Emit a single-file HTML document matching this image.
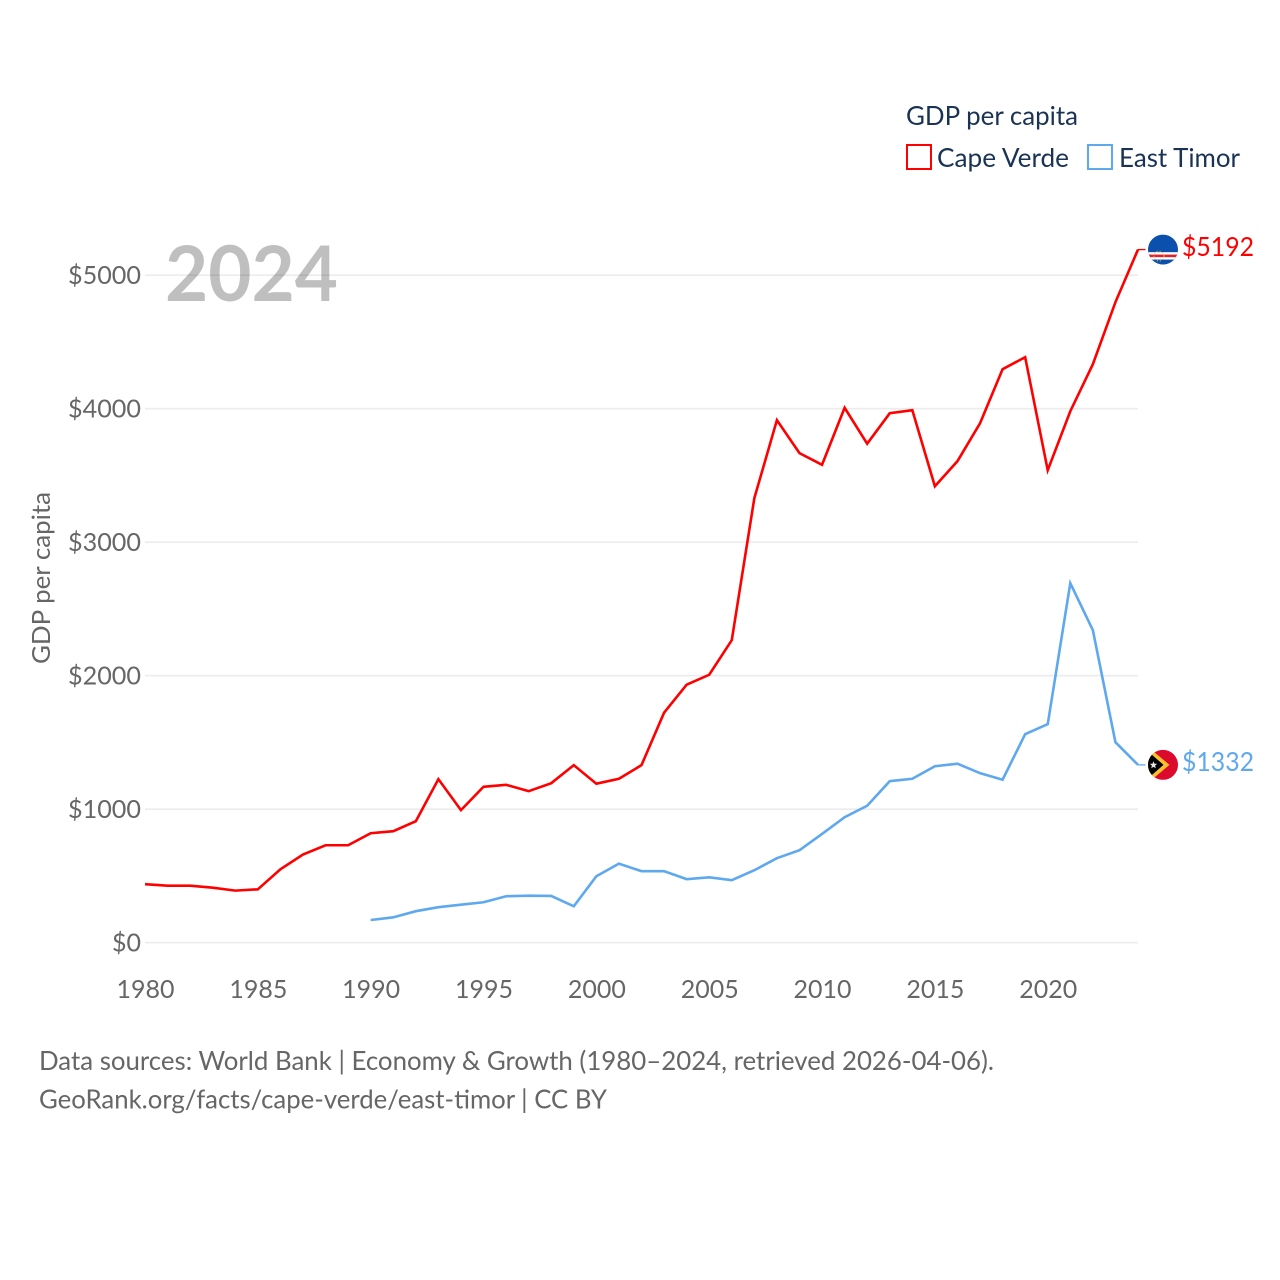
<!DOCTYPE html>
<html lang="en">
<head>
<meta charset="utf-8">
<title>GDP per capita: Cape Verde and East Timor</title>
<style>
html,body{margin:0;padding:0;background:#fff;}
svg{display:block;}
text{font-family:"Lato","Carlito","Liberation Sans",sans-serif;}
</style>
</head>
<body>
<svg id="chart" xmlns="http://www.w3.org/2000/svg" width="1280" height="1280" viewBox="0 0 1280 1280">
  <rect width="1280" height="1280" fill="#fff"/>
  <g id="grid"></g>
  <g id="yticks"></g>
  <g id="xticks"></g>
  <text transform="translate(50,664) rotate(-90)" font-size="25.5" fill="#666" textLength="172" lengthAdjust="spacingAndGlyphs">GDP per capita</text>
  <text x="165" y="301" font-size="77" font-weight="700" fill="#000" fill-opacity="0.25" textLength="173" lengthAdjust="spacingAndGlyphs">2024</text>
  <g id="series"></g>
  <g id="flag-cv">
    <clipPath id="clip-cv"><circle r="15"/></clipPath>
    <g clip-path="url(#clip-cv)">
      <rect x="-15" y="-15" width="30" height="30" fill="#0b50ad"/>
      <rect x="-15" y="2.6" width="30" height="7.4" fill="#fff"/>
      <rect x="-15" y="5" width="30" height="2.6" fill="#e0202c"/>
      <circle cx="-4" cy="6.5" r="5" fill="none" stroke="#f4c430" stroke-width="1" stroke-dasharray="1 2"/>
    </g>
  </g>
  <g id="flag-tl">
    <clipPath id="clip-tl"><circle r="15"/></clipPath>
    <g clip-path="url(#clip-tl)">
      <rect x="-15" y="-15" width="30" height="30" fill="#dc0a2c"/>
      <polygon points="-15,-18 6.5,0 -15,18" fill="#fcc030"/>
      <polygon points="-15,-13.5 0.5,0 -15,13.5" fill="#000"/>
      <polygon points="-9.5,-3.6 -8.5,-1.1 -5.8,-1.1 -7.9,0.7 -7.2,3.4 -9.5,2 -11.8,3.4 -11.1,0.7 -13.2,-1.1 -10.5,-1.1" fill="#e8e8e8"/>
    </g>
  </g>
  <g id="end-labels"></g>
  <g>
    <text x="906" y="125" font-size="26" fill="#1a3355" textLength="172" lengthAdjust="spacingAndGlyphs">GDP per capita</text>
    <rect x="907" y="145" width="24" height="24" fill="#fff" stroke="#ff0000" stroke-width="2"/>
    <text x="937" y="167" font-size="26" fill="#1a3355" textLength="132" lengthAdjust="spacingAndGlyphs">Cape Verde</text>
    <rect x="1088" y="145" width="24" height="24" fill="#fff" stroke="#5ea8ee" stroke-width="2"/>
    <text x="1119" y="167" font-size="26" fill="#1a3355" textLength="121" lengthAdjust="spacingAndGlyphs">East Timor</text>
  </g>
  <text x="39" y="1070" font-size="26" fill="#666" textLength="955" lengthAdjust="spacingAndGlyphs">Data sources: World Bank | Economy &amp; Growth (1980–2024, retrieved 2026-04-06).</text>
  <text x="39" y="1108.5" font-size="26" fill="#666" textLength="568" lengthAdjust="spacingAndGlyphs">GeoRank.org/facts/cape-verde/east-timor | CC BY</text>
</svg>
<script>
const capeVerdeStartYear = 1980;
const capeVerdeValues = [438,427,427,412,390,400,550,660,730,730,820,835,910,1225,993,1168,1183,1135,1195,1330,1191,1228,1330,1723,1933,2007,2266,3330,3914,3667,3580,4007,3738,3966,3989,3419,3607,3891,4296,4386,3539,3981,4333,4798,5192];
const eastTimorStartYear = 1990;
const eastTimorValues = [170,190,236,266,285,303,348,352,350,273,498,592,536,536,476,490,468,543,633,693,815,940,1026,1210,1228,1322,1341,1270,1221,1562,1637,2693,2341,1502,1332];
const yTickValues = [0,1000,2000,3000,4000,5000];
const yTickLabels = ["$0","$1000","$2000","$3000","$4000","$5000"];
const xTickValues = [1980,1985,1990,1995,2000,2005,2010,2015,2020];
const xTickLabels = ["1980","1985","1990","1995","2000","2005","2010","2015","2020"];

const NS = "http://www.w3.org/2000/svg";
function xScale(year){ return 145 + (year - 1980) * (993 / 44); }
function yScale(v){ return 942.7 - v * 0.1335; }
function mk(tag, parent){ const el = document.createElementNS(NS, tag); parent.appendChild(el); return el; }

const grid = document.getElementById('grid');
const yticks = document.getElementById('yticks');
const xticks = document.getElementById('xticks');
const seriesG = document.getElementById('series');
const endG = document.getElementById('end-labels');

yTickValues.forEach(function(v, i){
  const line = mk('line', grid);
  
  
  line.setAttribute('x1', 145);
  line.setAttribute('x2', 1138);
  line.setAttribute('y1', yScale(v));
  line.setAttribute('y2', yScale(v));
  line.setAttribute('stroke', '#ececec');
  line.setAttribute('stroke-width', 1.6);
  const t = mk('text', yticks);
  
  
  const w = yTickLabels[i].length === 2 ? 29 : 73;
  t.setAttribute('x', 141 - w);
  t.setAttribute('y', yScale(v) + 9);
  t.setAttribute('font-size', 25.5);
  t.setAttribute('fill', '#666');
  t.setAttribute('textLength', w);
  t.setAttribute('lengthAdjust', 'spacingAndGlyphs');
  t.textContent = yTickLabels[i];
});

xTickValues.forEach(function(y, i){
  const t = mk('text', xticks);
  
  
  t.setAttribute('x', xScale(y) - 28.5);
  t.setAttribute('y', 998);
  t.setAttribute('font-size', 25.5);
  t.setAttribute('fill', '#666');
  t.setAttribute('textLength', 58);
  t.setAttribute('lengthAdjust', 'spacingAndGlyphs');
  t.textContent = xTickLabels[i];
});

function pathFor(values, startYear){
  return values.map(function(v, i){ return xScale(startYear + i).toFixed(2) + ',' + yScale(v).toFixed(2); }).join(' ');
}

const cvLine = mk('polyline', seriesG);


cvLine.setAttribute('points', pathFor(capeVerdeValues, capeVerdeStartYear));
cvLine.setAttribute('fill', 'none');
cvLine.setAttribute('stroke', '#ff0000');
cvLine.setAttribute('stroke-width', 2.6);

const tlLine = mk('polyline', seriesG);


tlLine.setAttribute('points', pathFor(eastTimorValues, eastTimorStartYear));
tlLine.setAttribute('fill', 'none');
tlLine.setAttribute('stroke', '#5ea8ee');
tlLine.setAttribute('stroke-width', 2.6);

const cvLast = capeVerdeValues[capeVerdeValues.length - 1];
const tlLast = eastTimorValues[eastTimorValues.length - 1];

const cvConnector = mk('line', seriesG);


cvConnector.setAttribute('x1', xScale(2024));
cvConnector.setAttribute('x2', xScale(2024) + 7.5);
cvConnector.setAttribute('y1', yScale(cvLast));
cvConnector.setAttribute('y2', yScale(cvLast));
cvConnector.setAttribute('stroke', '#ff0000');
cvConnector.setAttribute('stroke-width', 1.3);

const tlConnector = mk('line', seriesG);


tlConnector.setAttribute('x1', xScale(2024));
tlConnector.setAttribute('x2', xScale(2024) + 7.5);
tlConnector.setAttribute('y1', yScale(tlLast));
tlConnector.setAttribute('y2', yScale(tlLast));
tlConnector.setAttribute('stroke', '#5ea8ee');
tlConnector.setAttribute('stroke-width', 1.3);

document.getElementById('flag-cv').setAttribute('transform', 'translate(1163,' + yScale(cvLast) + ')');
document.getElementById('flag-tl').setAttribute('transform', 'translate(1163,' + yScale(tlLast) + ')');

const cvLabel = mk('text', endG);


cvLabel.setAttribute('x', 1182);
cvLabel.setAttribute('y', yScale(cvLast) + 6.5);
cvLabel.setAttribute('font-size', 26);
cvLabel.setAttribute('fill', '#ff0000');
cvLabel.setAttribute('textLength', 72);
cvLabel.setAttribute('lengthAdjust', 'spacingAndGlyphs');
cvLabel.textContent = '$' + cvLast;

const tlLabel = mk('text', endG);


tlLabel.setAttribute('x', 1182);
tlLabel.setAttribute('y', yScale(tlLast) + 6);
tlLabel.setAttribute('font-size', 26);
tlLabel.setAttribute('fill', '#5ea8ee');
tlLabel.setAttribute('textLength', 72);
tlLabel.setAttribute('lengthAdjust', 'spacingAndGlyphs');
tlLabel.textContent = '$' + tlLast;
</script>
</body>
</html>
